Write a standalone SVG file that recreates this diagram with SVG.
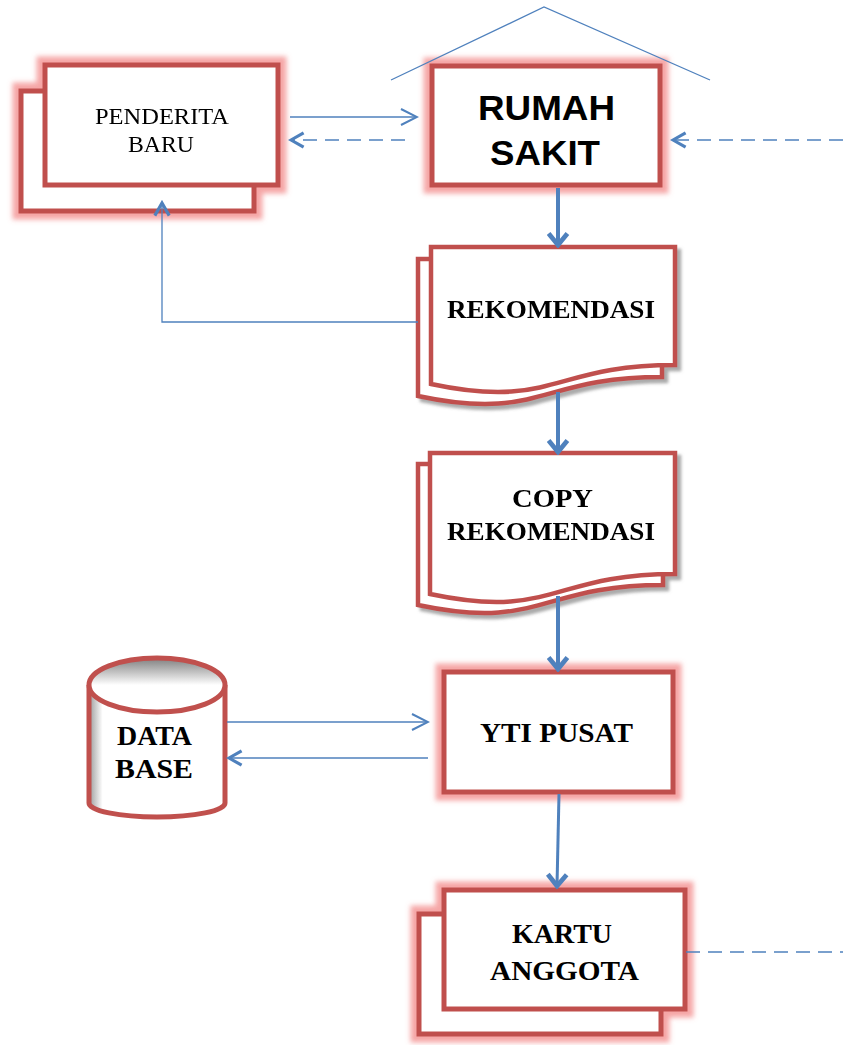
<svg xmlns="http://www.w3.org/2000/svg" width="843" height="1045" viewBox="0 0 843 1045">
<style>
.box{fill:#fff;stroke:#c0504d;stroke-width:5}
.doc{fill:#fff;stroke:#c0504d;stroke-width:4.5;stroke-linejoin:miter}
.t{font-family:"Liberation Serif","Times New Roman",serif;font-size:24px;fill:#000}
.tb{font-family:"Liberation Serif","Times New Roman",serif;font-weight:bold;font-size:25px;fill:#000}
.ts{font-family:"Liberation Sans",Arial,sans-serif;font-weight:bold;font-size:35px;fill:#000}
.ln{fill:none;stroke:#4f81bd;stroke-width:1.3}
.thick{fill:none;stroke:#4f81bd;stroke-width:4}
.dash{fill:none;stroke:#4f81bd;stroke-width:1.3;stroke-dasharray:14 8}
</style>
<defs>
<filter id="glow" x="-20%" y="-20%" width="140%" height="140%">
<feMorphology in="SourceAlpha" operator="dilate" radius="6" result="d"/>
<feGaussianBlur in="d" stdDeviation="2.5" result="b"/>
<feFlood flood-color="#ef6b6b" flood-opacity="0.6"/>
<feComposite in2="b" operator="in" result="g"/>
<feMerge><feMergeNode in="g"/><feMergeNode in="SourceGraphic"/></feMerge>
</filter>
<filter id="shadow" x="-10%" y="-10%" width="125%" height="125%">
<feOffset in="SourceAlpha" dx="4" dy="4" result="o"/>
<feGaussianBlur in="o" stdDeviation="1.5" result="b"/>
<feFlood flood-color="#666" flood-opacity="0.55"/>
<feComposite in2="b" operator="in" result="s"/>
<feMerge><feMergeNode in="s"/><feMergeNode in="SourceGraphic"/></feMerge>
</filter>
<linearGradient id="topg" x1="0" y1="0" x2="0" y2="1">
<stop offset="0" stop-color="#7f7f7f"/>
<stop offset="0.5" stop-color="#fff"/>
</linearGradient>
<linearGradient id="bodyg" x1="0" y1="0" x2="1" y2="0">
<stop offset="0" stop-color="#9a9a9a"/>
<stop offset="0.1" stop-color="#fff"/>
<stop offset="1" stop-color="#fff"/>
</linearGradient>
<marker id="chev" viewBox="0 0 20 20" refX="18" refY="10" markerWidth="20" markerHeight="20" markerUnits="userSpaceOnUse" orient="auto">
<path d="M2,2 L18,10 L2,18" fill="none" stroke="#4f81bd" stroke-width="2"/>
</marker>
<marker id="chevB" viewBox="0 0 20 20" refX="17" refY="10" markerWidth="18" markerHeight="18" markerUnits="userSpaceOnUse" orient="auto">
<path d="M3,2 L17,10 L3,18" fill="none" stroke="#4f81bd" stroke-width="3.5"/>
</marker>
<marker id="chevT" viewBox="0 0 16 22" refX="13" refY="11" markerWidth="17" markerHeight="23" markerUnits="userSpaceOnUse" orient="auto">
<path d="M2,2 L13,11 L2,20" fill="none" stroke="#4f81bd" stroke-width="4.5"/>
</marker>
</defs>

<g id="penderita-baru" filter="url(#glow)">
<rect class="box" x="21" y="91" width="233" height="120"/>
<rect class="box" x="45" y="65" width="233" height="120"/>
<text class="t" x="95" y="124" textLength="134" lengthAdjust="spacingAndGlyphs">PENDERITA</text>
<text class="t" x="128" y="152" textLength="66" lengthAdjust="spacingAndGlyphs">BARU</text>
</g>

<g id="rumah-sakit">
<g filter="url(#glow)">
<rect class="box" x="432" y="66" width="228" height="119"/>
</g>
<text class="ts" x="478" y="120" textLength="137" lengthAdjust="spacingAndGlyphs">RUMAH</text>
<text class="ts" x="490" y="165" textLength="110" lengthAdjust="spacingAndGlyphs">SAKIT</text>
</g>

<g id="rekomendasi" filter="url(#shadow)">
<path class="doc" d="M418,259 H662 V377 C540,377 540,422 418,396 Z"/>
<path class="doc" d="M431,247 H675 V365 C553,365 553,410 431,384 Z"/>
<text class="tb" x="447" y="318" textLength="208" lengthAdjust="spacingAndGlyphs">REKOMENDASI</text>
</g>

<g id="copy-rekomendasi" filter="url(#shadow)">
<path class="doc" d="M418,464 H663 V585 C540.5,585 540.5,631 418,605 Z"/>
<path class="doc" d="M430,453 H675 V574 C552.5,574 552.5,620 430,594 Z"/>
<text class="tb" x="512" y="507" textLength="81" lengthAdjust="spacingAndGlyphs">COPY</text>
<text class="tb" x="447" y="540" textLength="208" lengthAdjust="spacingAndGlyphs">REKOMENDASI</text>
</g>

<g id="yti-pusat">
<g filter="url(#glow)">
<rect class="box" x="444" y="672" width="229" height="120"/>
</g>
<text class="tb" x="480" y="742" textLength="153" lengthAdjust="spacingAndGlyphs" style="font-size:28px">YTI PUSAT</text>
</g>

<g id="data-base">
<path d="M89,685 L89,803 A68,14 0 0 0 225,803 L225,685" fill="url(#bodyg)" stroke="#c0504d" stroke-width="5"/>
<ellipse cx="157" cy="685" rx="68" ry="27" fill="url(#topg)" stroke="#c0504d" stroke-width="5"/>
<text class="tb" x="117" y="745" textLength="75" lengthAdjust="spacingAndGlyphs" style="font-size:27px">DATA</text>
<text class="tb" x="115" y="778" textLength="78" lengthAdjust="spacingAndGlyphs" style="font-size:27px">BASE</text>
</g>

<g id="kartu-anggota">
<g filter="url(#glow)">
<rect class="box" x="419" y="914" width="242" height="120"/>
<rect class="box" x="444" y="890" width="241" height="119"/>
</g>
<text class="tb" x="512" y="943" textLength="100" lengthAdjust="spacingAndGlyphs" style="font-size:28px">KARTU</text>
<text class="tb" x="490" y="980" textLength="149" lengthAdjust="spacingAndGlyphs" style="font-size:28px">ANGGOTA</text>
</g>

<g id="connectors">
<path class="ln" d="M391,80 L544,7 L710,80"/>
<path class="ln" d="M290,117 L417,117" marker-end="url(#chev)"/>
<path class="dash" d="M405,140 L291,140" marker-end="url(#chevB)"/>
<path class="dash" d="M843,140 L673,140" marker-end="url(#chevB)"/>
<path class="thick" d="M558,188 L558,245" marker-end="url(#chevT)"/>
<path class="ln" d="M418,322 L162,322 L162,203" marker-end="url(#chevB)"/>
<path class="thick" d="M558,392 L558,452" marker-end="url(#chevT)"/>
<path class="thick" d="M558,596 L558,669" marker-end="url(#chevT)"/>
<path class="ln" d="M227,722 L428,722" marker-end="url(#chev)"/>
<path class="ln" d="M428,758 L229,758" marker-end="url(#chevB)"/>
<path class="thick" style="stroke-width:3" d="M559,794 L557,886" marker-end="url(#chevT)"/>
<path class="dash" d="M686,952 L843,952"/>
</g>
</svg>
